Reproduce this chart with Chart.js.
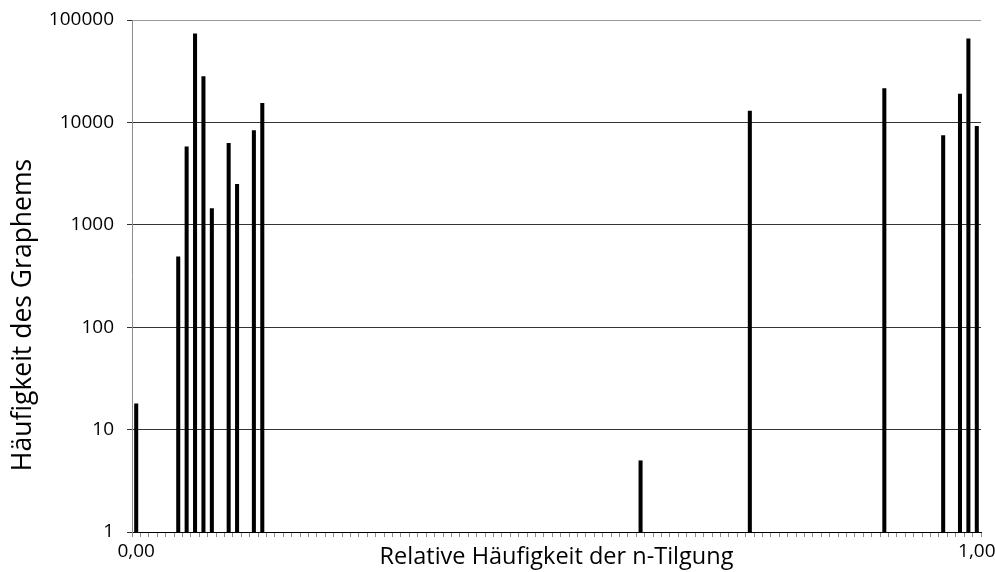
<!DOCTYPE html>
<html>
<head>
<meta charset="utf-8">
<script src="https://cdn.jsdelivr.net/npm/chart.js@4.4.1/dist/chart.umd.min.js"></script>
<style>
  html, body { margin: 0; padding: 0; background: #ffffff; }
  #wrap { width: 995px; height: 572px; }
</style>
</head>
<body>
<div id="wrap"><canvas id="chart" width="995" height="572"></canvas></div>
<script>
// Relative frequency classes 0,00 ... 1,00 in steps of 0,01
const categories = [];
for (let i = 0; i <= 100; i++) {
  categories.push((i / 100).toFixed(2).replace('.', ','));
}

// Classes that actually occur, with the number of graphemes in each
const occurringClasses = ['0,00', '0,05', '0,06', '0,07', '0,08', '0,09', '0,11', '0,12', '0,14', '0,15',
                          '0,60', '0,73', '0,89', '0,96', '0,98', '0,99', '1,00'];
const graphemeCounts   = [18, 490, 5800, 74000, 28200, 1450, 6300, 2500, 8400, 15500,
                          5, 13000, 21500, 7500, 19000, 66000, 9200];

// Labelled classes on the x axis and decades on the y axis
const xTickLabels = ['0,00', '1,00'];
const yTickValues = [1, 10, 100, 1000, 10000, 100000];

const yTitle = 'Häufigkeit des Graphems';
const xTitle = 'Relative Häufigkeit der n-Tilgung';

// One value per class, empty where the class does not occur
const series = categories.map(c => {
  const k = occurringClasses.indexOf(c);
  return k >= 0 ? graphemeCounts[k] : null;
});

const FONT = "'Open Sans', 'DejaVu Sans', sans-serif";

// Rotated y-axis title, drawn beside the tick labels
const yTitlePlugin = {
  id: 'yTitle',
  afterDraw(chart) {
    const ctx = chart.ctx;
    ctx.save();
    ctx.translate(31, 315);
    ctx.rotate(-Math.PI / 2);
    ctx.font = `26.5px ${FONT}`;
    ctx.fillStyle = '#000000';
    ctx.textAlign = 'center';
    ctx.textBaseline = 'alphabetic';
    ctx.fillText(yTitle, 0, 0);
    ctx.restore();
  }
};

new Chart(document.getElementById('chart'), {
  type: 'bar',
  data: {
    labels: categories,
    datasets: [{
      data: series,
      backgroundColor: '#000000',
      borderWidth: 0,
      barPercentage: 0.48,
      categoryPercentage: 1.0
    }]
  },
  plugins: [yTitlePlugin],
  options: {
    responsive: false,
    animation: false,
    devicePixelRatio: 1,
    layout: { padding: { top: 20, right: 14, bottom: 0, left: 0 }, autoPadding: false },
    plugins: {
      legend: { display: false },
      tooltip: { enabled: false }
    },
    scales: {
      x: {
        type: 'category',
        offset: true,
        grid: {
          display: true,
          offset: true,
          drawOnChartArea: false,
          drawTicks: true,
          tickLength: 5,
          color: '#8c8c8c'
        },
        border: { display: true, color: '#000000', width: 1 },
        ticks: {
          autoSkip: false,
          maxRotation: 0,
          minRotation: 0,
          padding: 3,
          color: '#000000',
          font: { family: FONT, size: 19 },
          callback: (value, index) => {
            const lab = categories[index];
            return xTickLabels.includes(lab) ? lab : '';
          }
        },
        title: {
          display: true,
          text: xTitle,
          color: '#000000',
          font: { family: FONT, size: 23.5 },
          padding: { top: 0, bottom: 1 }
        },
        afterFit: s => {
          s.height = 40;
          s.paddingLeft = 0;
          s.paddingRight = 0;
        }
      },
      y: {
        type: 'logarithmic',
        min: 1,
        max: 100000,
        afterBuildTicks: s => { s.ticks = yTickValues.map(v => ({ value: v })); },
        grid: {
          display: true,
          drawTicks: true,
          tickLength: 5,
          color: ctx => (ctx.tick && ctx.tick.value === 100000) ? '#9a9a9a' : '#333333',
          tickColor: '#333333'
        },
        border: { display: true, color: '#8c8c8c', width: 1 },
        ticks: {
          padding: 13,
          color: '#000000',
          font: { family: FONT, size: 19 },
          callback: v => String(v)
        },
        afterFit: s => {
          s.width = 132;
          s.paddingTop = 0;
          s.paddingBottom = 0;
        }
      }
    }
  }
});
</script>
</body>
</html>
